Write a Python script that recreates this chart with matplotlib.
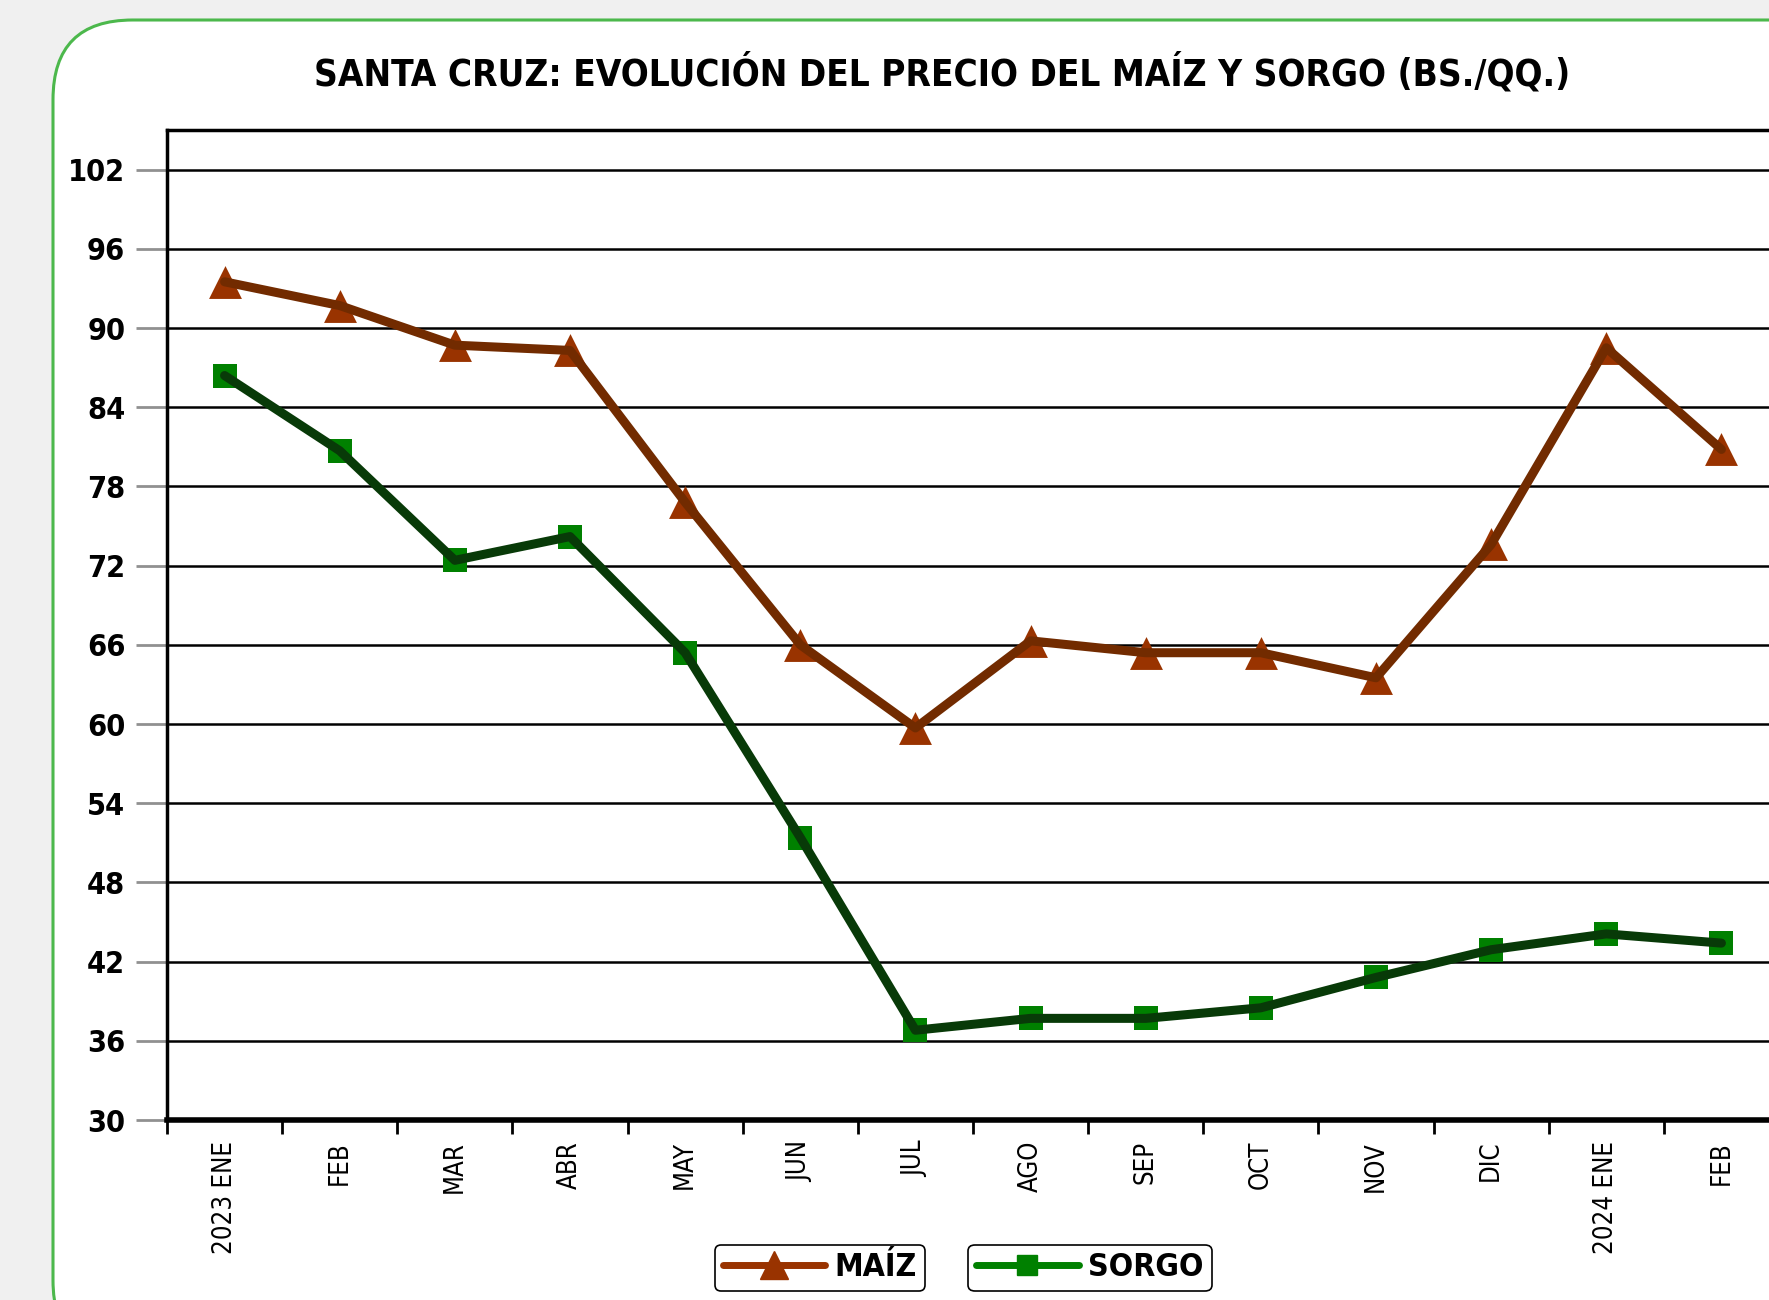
import matplotlib.pyplot as plt
from matplotlib.lines import Line2D
from matplotlib.patches import FancyBboxPatch

# datos
meses = ["2023 ENE", "FEB", "MAR", "ABR", "MAY", "JUN", "JUL",
         "AGO", "SEP", "OCT", "NOV", "DIC", "2024 ENE", "FEB"]
maiz = [93.5, 91.7, 88.7, 88.3, 76.8, 66.0, 59.7,
        66.3, 65.4, 65.4, 63.5, 73.6, 88.5, 80.8]
sorgo = [86.4, 80.7, 72.4, 74.2, 65.4, 51.4, 36.8,
         37.7, 37.7, 38.5, 40.8, 42.9, 44.1, 43.4]
y_ticks = list(range(30, 103, 6))

plt.rcParams["font.family"] = ["DejaVu Sans"]
plt.rcParams["font.stretch"] = "condensed"

fig = plt.figure(figsize=(17.69, 13), dpi=100, facecolor="#f0f0f0")

# marco redondeado verde
W, H = 1769, 1300
box = FancyBboxPatch((53 / W, -60 / H), 1800 / W, (1300 - 20 + 60) / H,
                     boxstyle="round,pad=0,rounding_size=0.045",
                     transform=fig.transFigure, facecolor="white",
                     edgecolor="#4cb84c", linewidth=2.2, zorder=-5,
                     mutation_aspect=W / H)
fig.patches.append(box)

ax = fig.add_axes([167 / W, 180 / H, (1779 - 167) / W, (1120 - 130) / H])
ax.set_facecolor("white")

x = list(range(len(meses)))
ax.scatter(x, maiz, marker="^", s=560, color="#993300", zorder=3, linewidths=0)
ax.plot(x, maiz, color="#722b00", lw=6.5, zorder=4, solid_capstyle="round")
ax.scatter(x, sorgo, marker="s", s=300, color="#008000", zorder=3, linewidths=0)
ax.plot(x, sorgo, color="#083a08", lw=6.5, zorder=4, solid_capstyle="round")

ax.set_xlim(-0.5, len(meses) - 0.5)
ax.set_ylim(30, 105)
ax.set_yticks(y_ticks)
ax.set_yticklabels([str(v) for v in y_ticks], fontsize=22, fontweight="bold")
ax.tick_params(axis="y", length=22, width=2, color="#909090", pad=8)
ax.yaxis.grid(True, color="black", lw=1.8, zorder=1)
ax.set_axisbelow(True)

ax.set_xticks(x)
ax.set_xticklabels(meses, rotation=90, fontsize=18.5, va="top")
ax.tick_params(axis="x", which="major", length=0, pad=15)
ax.set_xticks([i - 0.5 for i in range(len(meses) + 1)], minor=True)
ax.tick_params(axis="x", which="minor", length=10, width=2, color="black")

ax.spines["bottom"].set_linewidth(4)
ax.spines["left"].set_linewidth(2.5)
ax.spines["top"].set_linewidth(2.5)
ax.spines["right"].set_visible(False)

fig.text(942 / W, 1 - 73 / H,
         "SANTA CRUZ: EVOLUCIÓN DEL PRECIO DEL MAÍZ Y SORGO (BS./QQ.)",
         ha="center", va="center", fontsize=26.5, fontweight="bold")

# leyendas separadas
h_maiz = Line2D([], [], color="#993300", lw=5, marker="^", markersize=20,
                solid_capstyle="round")
h_sorgo = Line2D([], [], color="#008000", lw=5, marker="s", markersize=14,
                 solid_capstyle="round")
for h, lab, cx in [(h_maiz, "MAÍZ", 820), (h_sorgo, "SORGO", 1090)]:
    leg = fig.legend([h], [lab], loc="center", bbox_to_anchor=(cx / W, 1 - 1268 / H),
                     prop={"weight": "bold", "size": 23, "stretch": "condensed"},
                     handlelength=3.2, handletextpad=0.3, borderpad=0.25,
                     fancybox=True, edgecolor="black", framealpha=1)
    leg.get_frame().set_linewidth(1.2)

fig.savefig("out.png", dpi=100, facecolor=fig.get_facecolor())
